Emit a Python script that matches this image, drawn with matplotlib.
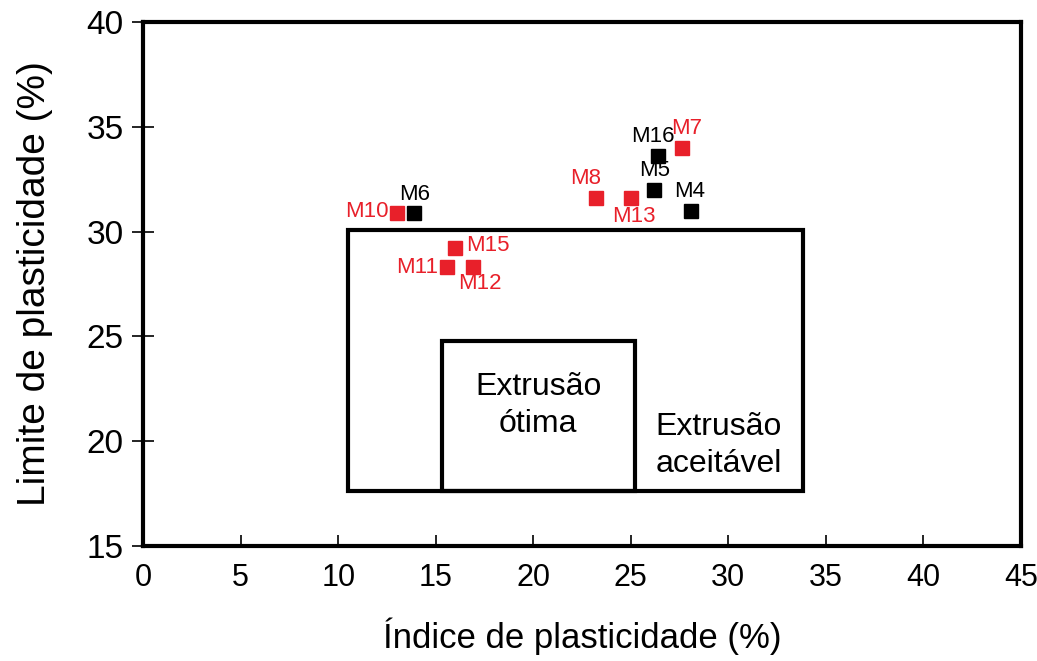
import matplotlib
matplotlib.use("Agg")
import matplotlib.pyplot as plt
from matplotlib.patches import Rectangle

# samples: plasticity index (x) vs plastic limit (y)
names = ["M10", "M6", "M15", "M11", "M12", "M8", "M13", "M5", "M16", "M7", "M4"]
ip = [13.0, 13.9, 16.0, 15.6, 16.9, 23.2, 25.0, 26.2, 26.4, 27.6, 28.1]
lp = [30.9, 30.9, 29.2, 28.3, 28.3, 31.6, 31.6, 32.0, 33.6, 34.0, 31.0]
groups = ["r", "k", "r", "r", "r", "r", "r", "k", "k", "r", "k"]

# extrusion zones (x0, x1, y0, y1)
zone_ok = [10.5, 33.8, 17.6, 30.1]
zone_best = [15.3, 25.2, 17.6, 24.8]

red = "#e8202a"

# label offsets in points (dx, dy, ha)
offsets = {
    "M10": (-6, 1, "right"), "M6": (0, 13, "center"), "M15": (8, 2, "left"),
    "M11": (-7, 0, "right"), "M12": (5, -12, "center"), "M8": (-7, 14, "center"),
    "M13": (2, -13, "center"), "M5": (0, 14, "center"), "M16": (-4, 14, "center"),
    "M7": (4, 14, "center"), "M4": (-1, 14, "center"),
}

plt.rcParams["font.family"] = "Liberation Sans"

fig = plt.figure(figsize=(10.37, 6.61), dpi=100)
ax = fig.add_axes([0.138, 0.174, 0.8466, 0.7927])

for x0, x1, y0, y1 in [zone_ok, zone_best]:
    ax.add_patch(Rectangle((x0, y0), x1 - x0, y1 - y0, fill=False, ec="k", lw=3, zorder=2))

ax.text((zone_best[0] + zone_best[1]) / 2, 21.7, "Extrusão\nótima", ha="center", va="center",
        fontsize=23, linespacing=1.3)
ax.text(29.5, 19.8, "Extrusão\naceitável", ha="center", va="center", fontsize=23, linespacing=1.3)

for n, x, y, g in zip(names, ip, lp, groups):
    c = red if g == "r" else "k"
    ax.plot(x, y, "s", color=c, ms=9.5, zorder=3)
    dx, dy, ha = offsets[n]
    ax.annotate(n, (x, y), xytext=(dx, dy), textcoords="offset points", ha=ha, va="center",
                color=c, fontsize=16)

ax.set_xlim(0, 45)
ax.set_ylim(15, 40)
ax.set_xticks(range(0, 46, 5))
ax.set_yticks(range(15, 41, 5))
for s in ax.spines.values():
    s.set_linewidth(3)
ax.tick_params(axis="y", direction="inout", length=16, width=1.2, labelsize=24, pad=6)
ax.tick_params(axis="x", direction="in", length=8, width=1.2, labelsize=22, pad=12)

ax.set_ylabel("Limite de plasticidade (%)", fontsize=28, labelpad=24)
ax.set_xlabel("Índice de plasticidade (%)", fontsize=25, labelpad=18)

fig.savefig("out.png", dpi=100)
